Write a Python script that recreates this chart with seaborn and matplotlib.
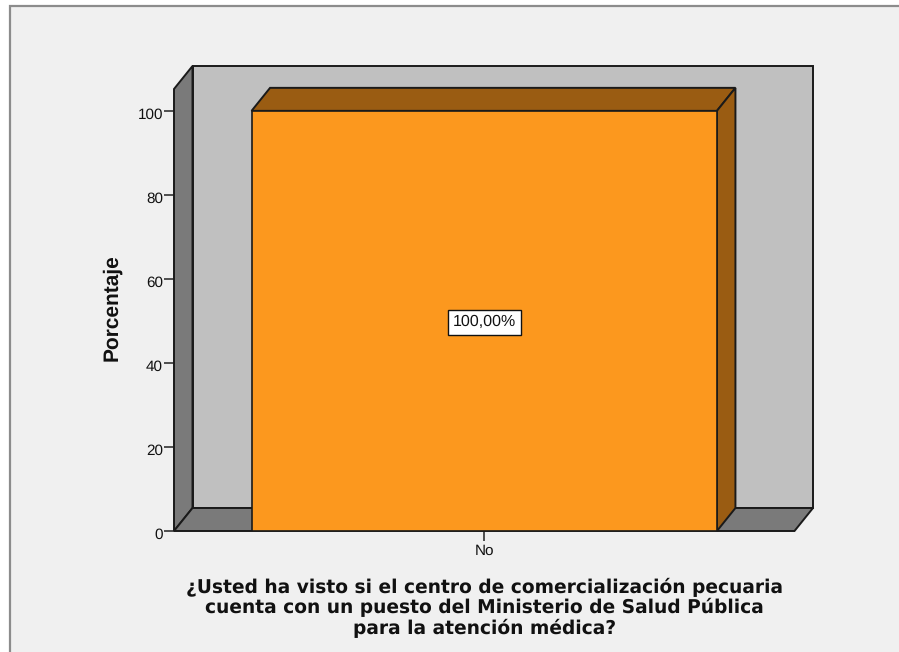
import matplotlib
matplotlib.use('Agg')
import matplotlib.pyplot as plt
from matplotlib.patches import Polygon, Rectangle
from matplotlib.transforms import ScaledTranslation
import pandas as pd
import seaborn as sns

categories = ['No']
percentages = [100.0]
y_ticks = [0, 20, 40, 60, 80, 100]
bar_label = '100,00%'
x_title = ('¿Usted ha visto si el centro de comercialización pecuaria\n'
           'cuenta con un puesto del Ministerio de Salud Pública\n'
           'para la atención médica?')

PANEL = '#F0F0F0'; WALL = '#C0C0C0'; SIDE = '#7A7A7A'
ORANGE = '#FC981E'; BROWN = '#9A5C12'; EDGE = '#1A1A1A'
W, H = 899, 652
DX, DY = 18.5, 23   # depth of the fake 3d box, pixels

sns.set_theme(style='white')
plt.rcParams['font.family'] = ['Liberation Sans', 'DejaVu Sans']
plt.rcParams['text.hinting'] = 'none'

fig = plt.figure(figsize=(W / 100, H / 100), dpi=100, facecolor='white')
fig.add_artist(Rectangle((9.5 / W, -0.1), 1, 1 + 0.1 - 6 / H, transform=fig.transFigure,
                         facecolor=PANEL, edgecolor='#8C8C8C', linewidth=1.6, zorder=-1))

ax = fig.add_axes([174 / W, 1 - 531 / H, 620.5 / W, 442 / H])
ax.patch.set_alpha(0)
df = pd.DataFrame({'cat': categories, 'pct': percentages})
sns.barplot(data=df, x='cat', y='pct', width=0.75, color=ORANGE, saturation=1,
            edgecolor=EDGE, linewidth=1.2, ax=ax, zorder=5)
ax.set_xlim(-0.5, 0.5)
ax.set_ylim(0, 105.2)
for s in ax.spines.values():
    s.set_visible(False)

ax.set_yticks(y_ticks)
ax.tick_params(axis='y', length=7.5, width=1.2, color='#333333', pad=0.5, labelsize=11, left=True,
               labelcolor='#111111')
ax.tick_params(axis='x', length=7, width=1.2, color='#333333', pad=2.7, labelsize=11, bottom=True,
               labelcolor='#111111')
ax.set_xlabel('')
ax.set_ylabel('Porcentaje', fontsize=15, fontweight='bold', color='#111111', labelpad=11.5, y=0.505)
# y labels sit a little below their ticks in the original
for lab in ax.get_yticklabels():
    lab.set_transform(lab.get_transform() + ScaledTranslation(0, -2 / 72, fig.dpi_scale_trans))


def px(x, y, trans):
    return trans.transform((x, y))


def poly(points, color, z):
    ax.add_artist(Polygon(points, closed=True, facecolor=color, edgecolor=EDGE, linewidth=1.4,
                          transform=None, zorder=z, clip_on=False))


# box walls
fig.canvas.draw()
x0, y0 = px(0, 0, ax.transAxes)
x1, y1 = px(1, 1, ax.transAxes)
poly([(x0 + DX, y0 + DY), (x1 + DX, y0 + DY), (x1 + DX, y1 + DY), (x0 + DX, y1 + DY)], WALL, 1)
poly([(x0, y0), (x0 + DX, y0 + DY), (x0 + DX, y1 + DY), (x0, y1)], SIDE, 2)
poly([(x0, y0), (x1, y0), (x1 + DX, y0 + DY), (x0 + DX, y0 + DY)], SIDE, 2)

# bar depth, taken from the bar seaborn drew
bar = ax.patches[0]
bx0, by0 = px(bar.get_x(), 0, ax.transData)
bx1, by1 = px(bar.get_x() + bar.get_width(), bar.get_height(), ax.transData)
poly([(bx0, by1), (bx1, by1), (bx1 + DX, by1 + DY), (bx0 + DX, by1 + DY)], BROWN, 4)
poly([(bx1, by0), (bx1 + DX, by0 + DY), (bx1 + DX, by1 + DY), (bx1, by1)], BROWN, 4)

ax.annotate(bar_label, (0, percentages[0] / 2), xytext=(0, -1), textcoords='offset points',
            ha='center', va='center', fontsize=11.5, color='#111111', zorder=7,
            bbox=dict(boxstyle='square,pad=0.3', facecolor='white', edgecolor='#111111', linewidth=1))

fig.text(484.5 / W, 1 - 577.5 / H, x_title, ha='center', va='top', fontsize=13.4, fontweight='bold',
         color='#111111', family=['DejaVu Sans'], linespacing=1.1)

fig.savefig('out.png', dpi=100, facecolor='white')
